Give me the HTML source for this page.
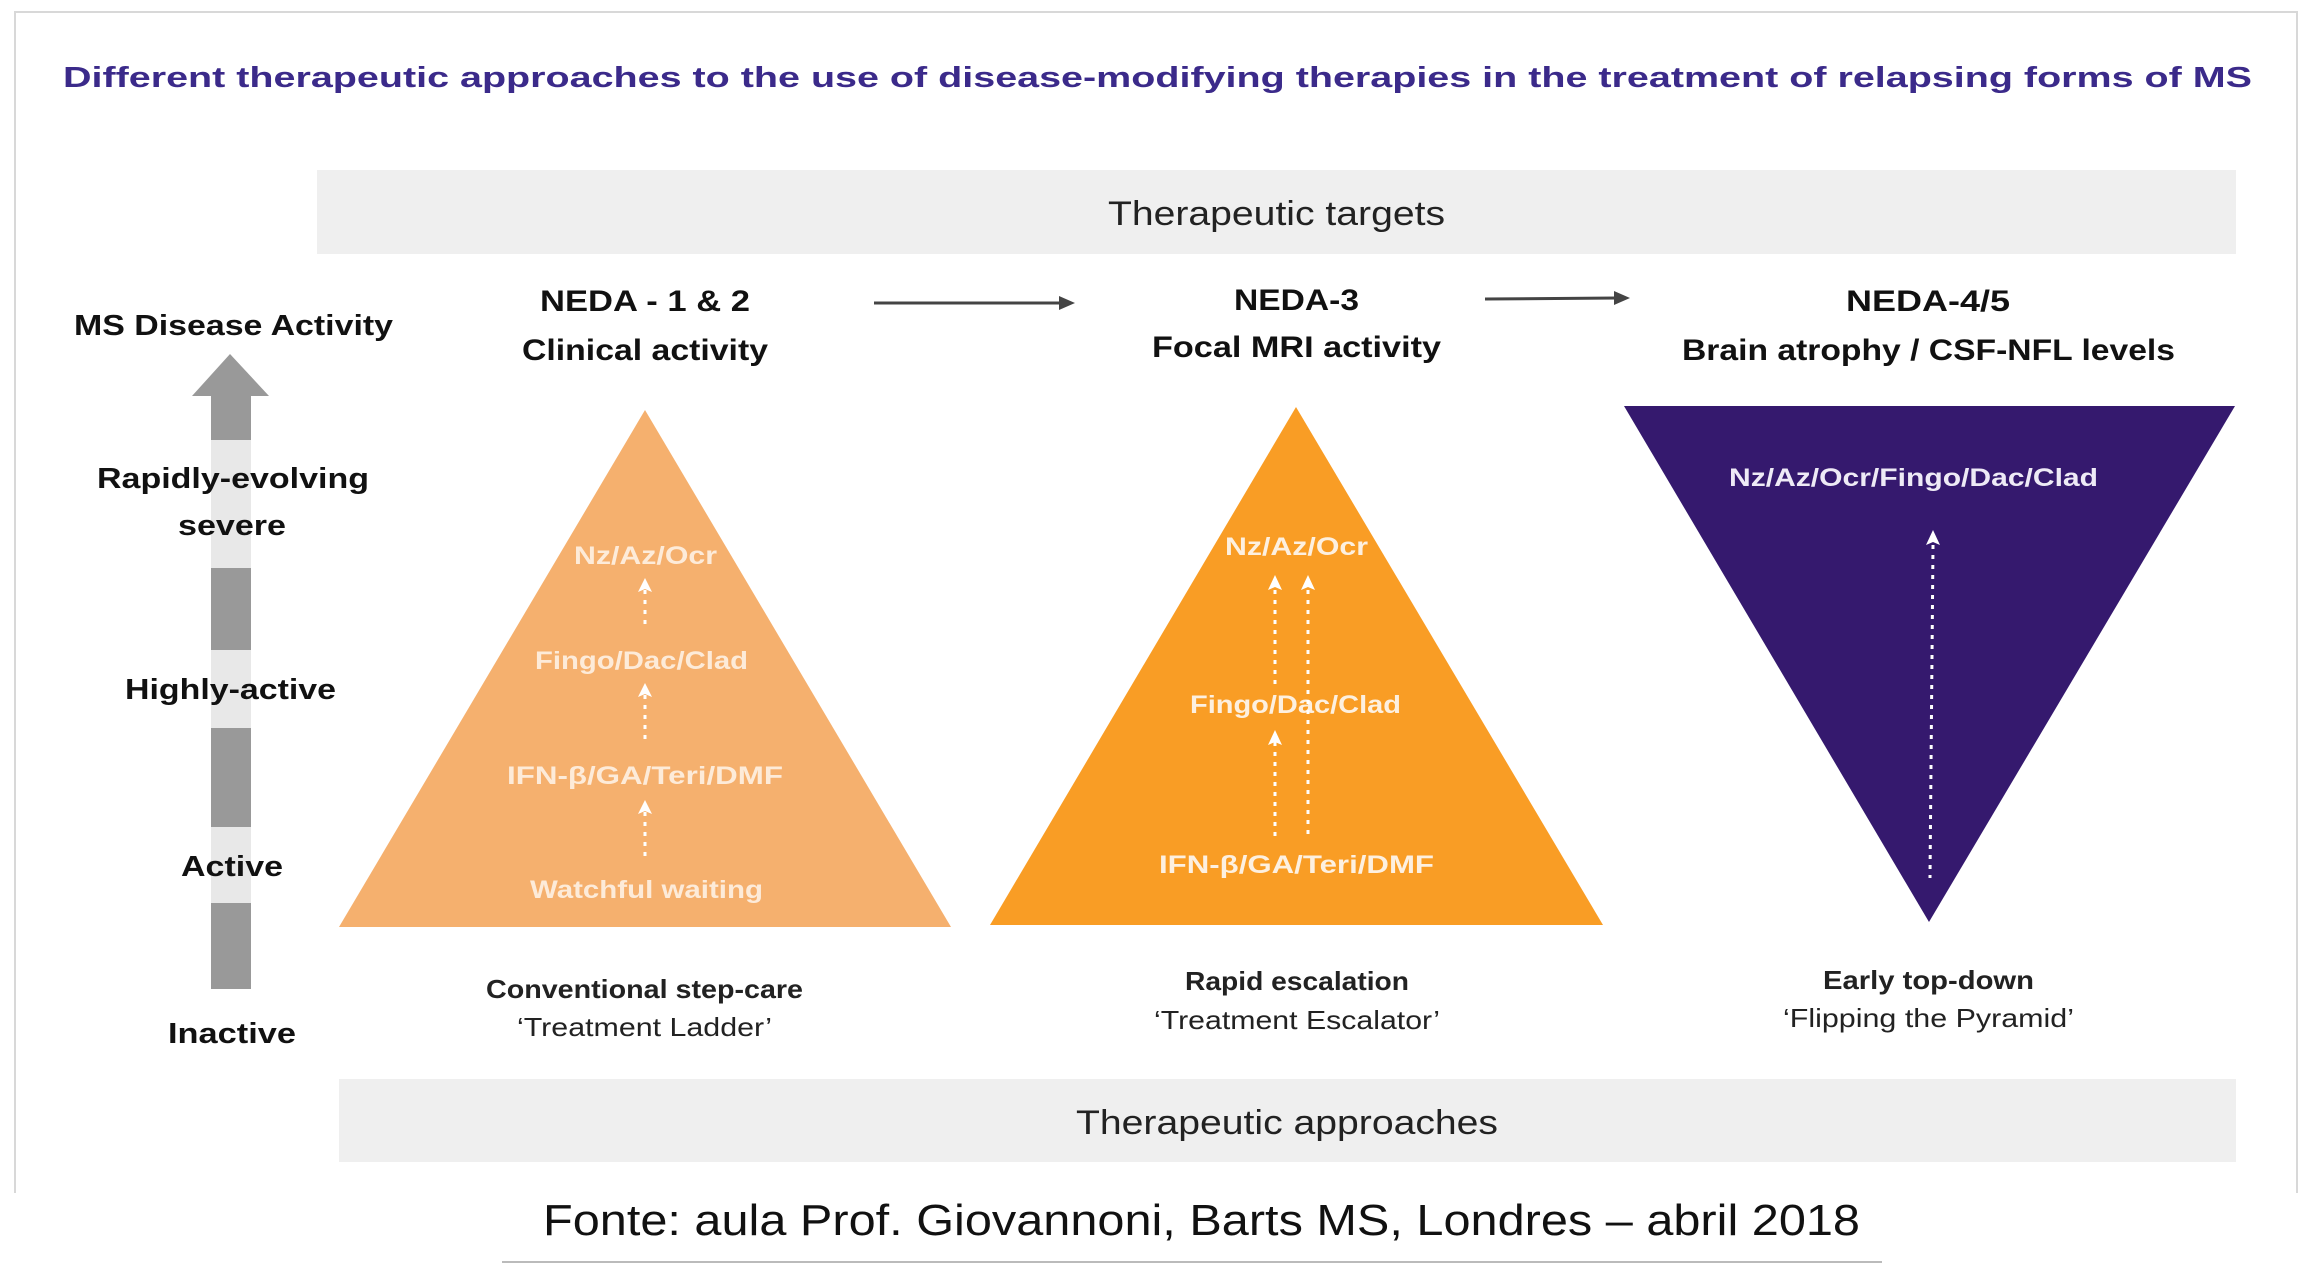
<!DOCTYPE html>
<html><head><meta charset="utf-8"><style>
html,body{margin:0;padding:0;background:#fff;}
svg{display:block;}
text{font-family:"Liberation Sans",sans-serif;}
</style></head><body>
<svg width="2308" height="1286" viewBox="0 0 2308 1286" xmlns="http://www.w3.org/2000/svg">
<rect x="0" y="0" width="2308" height="1286" fill="#fff"/>
<path d="M15 1193 V12 H2297 V1193" fill="none" stroke="#d8d8d8" stroke-width="2"/>
<text x="63" y="87" font-size="29" font-weight="bold" fill="#3b2a8a" textLength="2189" lengthAdjust="spacingAndGlyphs">Different therapeutic approaches to the use of disease-modifying therapies in the treatment of relapsing forms of MS</text>
<rect x="317" y="170" width="1919" height="84" fill="#efefef"/>
<text x="1108" y="225" font-size="34" fill="#222" textLength="337" lengthAdjust="spacingAndGlyphs">Therapeutic targets</text>
<rect x="339" y="1079" width="1897" height="83" fill="#efefef"/>
<text x="1076" y="1134" font-size="34" fill="#222" textLength="422" lengthAdjust="spacingAndGlyphs">Therapeutic approaches</text>
<text x="543" y="1235" font-size="44" fill="#111" textLength="1317" lengthAdjust="spacingAndGlyphs">Fonte: aula Prof. Giovannoni, Barts MS, Londres – abril 2018</text>
<line x1="502" y1="1262" x2="1882" y2="1262" stroke="#bbb" stroke-width="2"/>
<!-- left axis arrow -->
<polygon points="230,354 269,396 192,396" fill="#999"/>
<rect x="211" y="396" width="40" height="44" fill="#999"/>
<rect x="211" y="440" width="40" height="128" fill="#e8e8e8"/>
<rect x="211" y="568" width="40" height="82" fill="#999"/>
<rect x="211" y="650" width="40" height="78" fill="#e8e8e8"/>
<rect x="211" y="728" width="40" height="99" fill="#999"/>
<rect x="211" y="827" width="40" height="76" fill="#e8e8e8"/>
<rect x="211" y="903" width="40" height="86" fill="#999"/>
<g font-weight="bold" fill="#111" font-size="29">
<text x="74" y="335" textLength="319" lengthAdjust="spacingAndGlyphs">MS Disease Activity</text>
<text x="97" y="488" textLength="272" lengthAdjust="spacingAndGlyphs">Rapidly-evolving</text>
<text x="178" y="535" textLength="108" lengthAdjust="spacingAndGlyphs">severe</text>
<text x="125" y="699" textLength="211" lengthAdjust="spacingAndGlyphs">Highly-active</text>
<text x="181" y="876" textLength="102" lengthAdjust="spacingAndGlyphs">Active</text>
<text x="168" y="1043" textLength="128" lengthAdjust="spacingAndGlyphs">Inactive</text>
</g>
<!-- headers -->
<g font-weight="bold" fill="#111" font-size="30">
<text x="540" y="311" textLength="210" lengthAdjust="spacingAndGlyphs">NEDA - 1 &amp; 2</text>
<text x="522" y="360" textLength="246" lengthAdjust="spacingAndGlyphs">Clinical activity</text>
<text x="1234" y="310" textLength="125" lengthAdjust="spacingAndGlyphs">NEDA-3</text>
<text x="1152" y="357" textLength="289" lengthAdjust="spacingAndGlyphs">Focal MRI activity</text>
<text x="1846" y="311" textLength="164" lengthAdjust="spacingAndGlyphs">NEDA-4/5</text>
<text x="1682" y="360" textLength="493" lengthAdjust="spacingAndGlyphs">Brain atrophy / CSF-NFL levels</text>
</g>
<line x1="874" y1="303" x2="1062" y2="303" stroke="#444" stroke-width="3"/>
<polygon points="1075,303 1059,296 1059,310" fill="#444"/>
<line x1="1485" y1="299" x2="1617" y2="298" stroke="#444" stroke-width="3"/>
<polygon points="1630,298 1614,291 1614,305" fill="#444"/>
<!-- triangles -->
<polygon points="645,410 951,927 339,927" fill="#f5b06e"/>
<polygon points="1296,407 1603,925 990,925" fill="#f99d25"/>
<polygon points="1624,406 2235,406 1929,922" fill="#35196e"/>
<g font-weight="bold" font-size="25" fill="#fdebd9">
<text x="574" y="564" textLength="143" lengthAdjust="spacingAndGlyphs">Nz/Az/Ocr</text>
<text x="535" y="669" textLength="213" lengthAdjust="spacingAndGlyphs">Fingo/Dac/Clad</text>
<text x="507" y="784" textLength="276" lengthAdjust="spacingAndGlyphs">IFN-β/GA/Teri/DMF</text>
<text x="530" y="898" textLength="233" lengthAdjust="spacingAndGlyphs">Watchful waiting</text>
</g>
<g font-weight="bold" font-size="25" fill="#fdf0e0">
<text x="1225" y="555" textLength="143" lengthAdjust="spacingAndGlyphs">Nz/Az/Ocr</text>
<text x="1190" y="713" textLength="211" lengthAdjust="spacingAndGlyphs">Fingo/Dac/Clad</text>
<text x="1159" y="873" textLength="275" lengthAdjust="spacingAndGlyphs">IFN-β/GA/Teri/DMF</text>
</g>
<text x="1729" y="486" font-weight="bold" font-size="25" fill="#eeeaf6" textLength="369" lengthAdjust="spacingAndGlyphs">Nz/Az/Ocr/Fingo/Dac/Clad</text>
<g stroke="#fff" stroke-width="3" stroke-dasharray="4 6" fill="none">
<line x1="645" y1="590" x2="645" y2="630"/>
<line x1="645" y1="695" x2="645" y2="740"/>
<line x1="645" y1="812" x2="645" y2="860"/>
<line x1="1275" y1="590" x2="1275" y2="688"/>
<line x1="1275" y1="742" x2="1275" y2="838"/>
<line x1="1308" y1="590" x2="1308" y2="838"/>
<line x1="1933" y1="545" x2="1930" y2="878"/>
</g>
<g fill="#fff">
<polygon points="645,578 652,592 645,589 638,592"/>
<polygon points="645,683 652,697 645,694 638,697"/>
<polygon points="645,800 652,814 645,811 638,814"/>
<polygon points="1275,575 1282,590 1275,587 1268,590"/>
<polygon points="1308,575 1315,590 1308,587 1301,590"/>
<polygon points="1275,730 1282,745 1275,742 1268,745"/>
<polygon points="1933,530 1940,545 1933,542 1926,545"/>
</g>
<!-- captions -->
<g font-size="26" fill="#222">
<text x="486" y="998" font-weight="bold" textLength="317" lengthAdjust="spacingAndGlyphs">Conventional step-care</text>
<text x="517" y="1036" textLength="255" lengthAdjust="spacingAndGlyphs">‘Treatment Ladder’</text>
<text x="1185" y="990" font-weight="bold" textLength="224" lengthAdjust="spacingAndGlyphs">Rapid escalation</text>
<text x="1154" y="1029" textLength="286" lengthAdjust="spacingAndGlyphs">‘Treatment Escalator’</text>
<text x="1823" y="989" font-weight="bold" textLength="211" lengthAdjust="spacingAndGlyphs">Early top-down</text>
<text x="1783" y="1027" textLength="291" lengthAdjust="spacingAndGlyphs">‘Flipping the Pyramid’</text>
</g>
</svg>
</body></html>
